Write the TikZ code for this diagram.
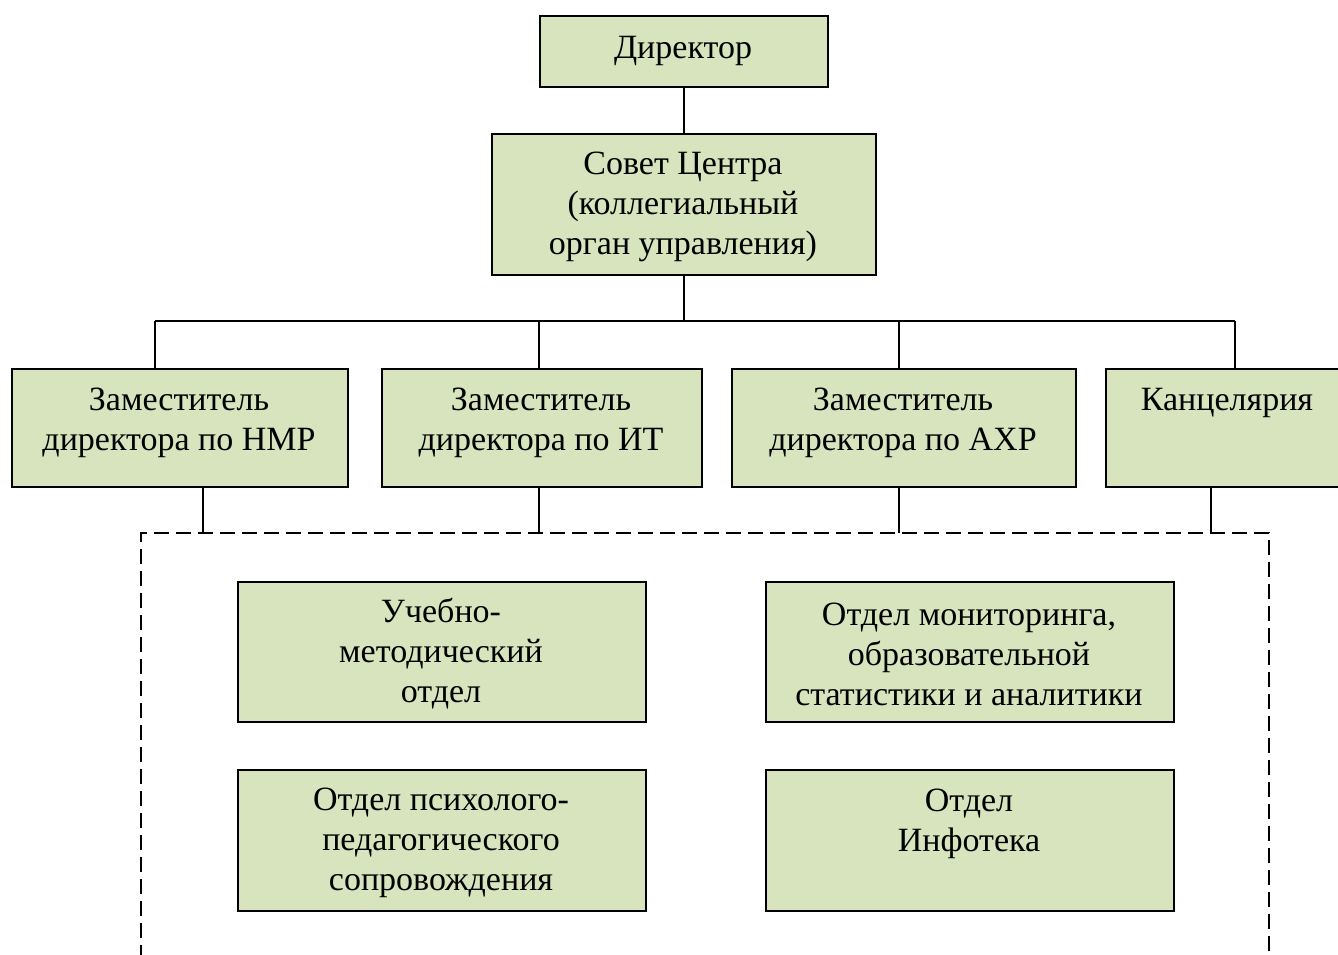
\documentclass[tikz,border=0pt]{standalone}
\usepackage{fontspec}
\setmainfont{Liberation Serif}
\definecolor{boxfill}{HTML}{D7E4BD}
\begin{document}
\begin{tikzpicture}[x=0.5pt,y=-0.5pt,
  box/.style={draw=black,line width=1pt,fill=boxfill,inner sep=0pt,anchor=north west},
  txt/.style={align=center,inner sep=0pt,font=\fontsize{17}{20}\selectfont},
  conn/.style={draw=black,line width=0.8pt},
  dashbox/.style={draw=black,line width=1pt,dash pattern=on 7.5pt off 3.5pt}]
\useasboundingbox (0,0) rectangle (1338,954);
% boxes
\node[box,minimum width=144pt,minimum height=35.5pt] (dir) at (539,15) {};
\node[txt] (dirt) at (683,51) {Директор};
\node[box,minimum width=192pt,minimum height=70.5pt] (sov) at (491,133) {};
\node[txt] (sovt) at (683,207) {Совет Центра\\(коллегиальный\\орган управления)};
\node[box,minimum width=168pt,minimum height=59pt] (z1) at (11,368) {};
\node[txt] (z1t) at (179,423) {Заместитель\\директора по НМР};
\node[box,minimum width=160pt,minimum height=59pt] (z2) at (381,368) {};
\node[txt] (z2t) at (541,423) {Заместитель\\директора по ИТ};
\node[box,minimum width=172pt,minimum height=59pt] (z3) at (731,368) {};
\node[txt] (z3t) at (903,423) {Заместитель\\директора по АХР};
\node[box,minimum width=122.5pt,minimum height=59pt] (z4) at (1105,368) {};
\node[txt,anchor=center] (z4t) at (1227,403) {Канцелярия};
\node[box,minimum width=204pt,minimum height=70pt] (u1) at (237,581) {};
\node[txt] (u1t) at (441,654) {Учебно-\\методический\\отдел};
\node[box,minimum width=204pt,minimum height=70pt] (u2) at (765,581) {};
\node[txt] (u2t) at (969,654) {Отдел мониторинга,\\образовательной\\статистики и аналитики};
\node[box,minimum width=204pt,minimum height=70.5pt] (u3) at (237,769) {};
\node[txt] (u3t) at (441,843) {Отдел психолого-\\педагогического\\сопровождения};
\node[box,minimum width=204pt,minimum height=70.5pt] (u4) at (765,769) {};
\node[txt] (u4t) at (969,824) {Отдел\\Инфотека};
% connectors
\draw[conn] (dir.south) -- (sov.north);
\coordinate (bus) at (683,321);
\coordinate (bl) at (155,321);
\coordinate (br) at (1235,321);
\draw[conn] (sov.south) -- (sov.south |- bus);
\draw[conn] (bl) -- (br);
\draw[conn] (bl) -- (bl |- z1.north);
\draw[conn] (539,321) coordinate (b2) -- (b2 |- z2.north);
\draw[conn] (899,321) coordinate (b3) -- (b3 |- z3.north);
\draw[conn] (br) -- (br |- z4.north);
% dashed frame
\coordinate (dl) at (141,533);
\coordinate (dr) at (1269,533);
\draw[dashbox] (141,960) -- (dl) -- (dr) -- (1269,960);
\draw[conn] (z1.south -| 203,0) -- (203,533);
\draw[conn] (z2.south -| 539,0) -- (539,533);
\draw[conn] (z3.south -| 899,0) -- (899,533);
\draw[conn] (z4.south -| 1211,0) -- (1211,533);
\end{tikzpicture}
\end{document}
